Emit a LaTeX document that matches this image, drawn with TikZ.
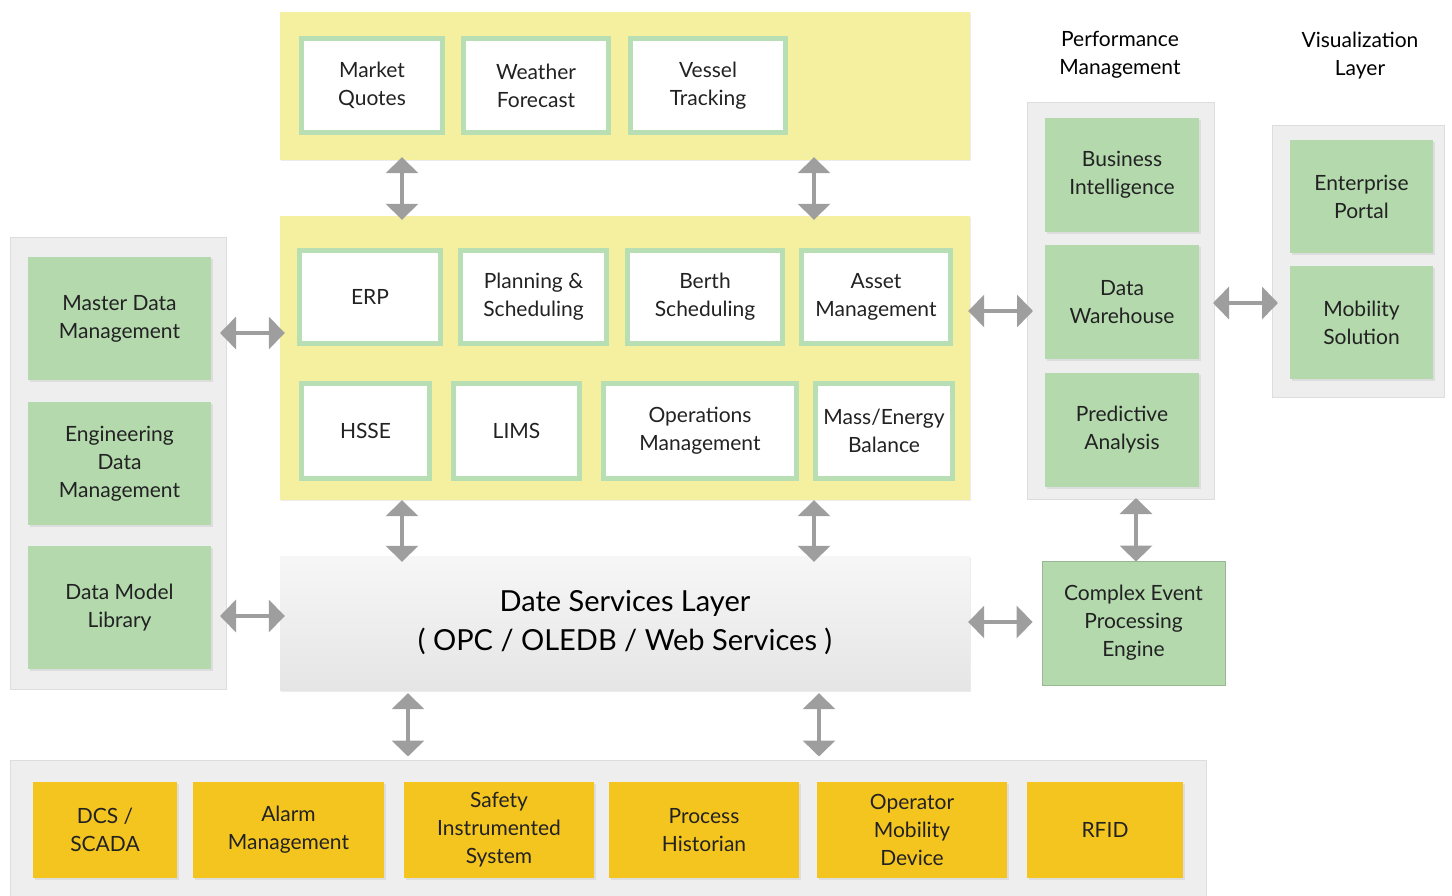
\documentclass[tikz,border=0pt]{standalone}
\usepackage{fontspec}
\setmainfont{Lato}
\usetikzlibrary{arrows.meta, positioning, shadows}
\definecolor{myellow}{HTML}{F5F0A0}
\definecolor{mgreen}{HTML}{B3D9AD}
\definecolor{mgreenline}{HTML}{B8DFB3}
\definecolor{mpanel}{HTML}{EEEEEE}
\definecolor{mpanelline}{HTML}{DDDDDD}
\definecolor{morange}{HTML}{F5C51F}
\definecolor{marrow}{HTML}{9E9E9E}
\definecolor{mtext}{HTML}{222222}
\tikzstyle{layer} = [rectangle, fill = myellow, drop shadow = {shadow xshift = 1pt, shadow yshift = -1pt, opacity = .15}]
\tikzstyle{group} = [rectangle, fill = mpanel, draw = mpanelline, line width = 1pt]
\tikzstyle{app} = [rectangle, fill = white, draw = mgreenline, line width = 5pt, text = mtext, text centered]
\tikzstyle{service} = [rectangle, fill = mgreen, text = mtext, text centered, drop shadow = {shadow xshift = 2pt, shadow yshift = -2pt, opacity = .15}]
\tikzstyle{field} = [rectangle, fill = morange, text = mtext, text centered, drop shadow = {shadow xshift = 2pt, shadow yshift = -2pt, opacity = .15}]
\tikzstyle{link} = [line width = 3.5pt, draw = marrow, {Triangle[width = 32pt, length = 16pt]}-{Triangle[width = 32pt, length = 16pt]}]

\begin{document}
\begin{tikzpicture}[x = 1pt, y = -1pt, align = center, node distance = 13pt, font = \fontsize{21}{28}\selectfont]
  \useasboundingbox (0,0) rectangle (1452,896);
  % external feeds
  \node (feeds) [layer, minimum width = 690pt, minimum height = 148pt] at (625,86) {};
  \node (quotes) [app, minimum width = 141pt, minimum height = 94pt] at (372,85.5) {Market\\Quotes};
  \node (weather) [app, minimum width = 145pt, minimum height = 94pt] at (536,85.5) {Weather\\Forecast};
  \node (vessel) [app, minimum width = 155pt, minimum height = 94pt] at (708,85.5) {Vessel\\Tracking};
  % business applications
  \node (apps) [layer, minimum width = 690pt, minimum height = 284pt] at (625,358) {};
  \node (erp) [app, minimum width = 141pt, minimum height = 93pt] at (370,297) {ERP};
  \node (plan) [app, minimum width = 146pt, minimum height = 93pt] at (533.5,297) {Planning \&\\Scheduling};
  \node (berth) [app, minimum width = 155pt, minimum height = 93pt] at (705,297) {Berth\\Scheduling};
  \node (asset) [app, minimum width = 149pt, minimum height = 93pt] at (876,297) {Asset\\Management};
  \node (hsse) [app, minimum width = 128pt, minimum height = 95pt] at (365.5,431) {HSSE};
  \node (lims) [app, minimum width = 126pt, minimum height = 95pt] at (516.5,431) {LIMS};
  \node (ops) [app, minimum width = 193pt, minimum height = 95pt] at (700,431) {Operations\\Management};
  \node (balance) [app, minimum width = 137pt, minimum height = 95pt] at (884,431) {Mass/Energy\\Balance};
  % data services
  \node (dsl) [rectangle, top color = mpanel!50!white, bottom color = mpanel!92!gray, drop shadow = {shadow xshift = 1pt, shadow yshift = -2pt, opacity = .15}, minimum width = 690pt, minimum height = 134pt, font = \fontsize{29}{39}\selectfont, text = black] at (625,623) {Date Services Layer\\( OPC / OLEDB / Web Services )};
  % master data
  \node (master) [group, minimum width = 216pt, minimum height = 452pt] at (118.5,463.5) {};
  \node (mdm) [service, minimum width = 183pt, minimum height = 123pt] at (119.5,318.5) {Master Data\\Management};
  \node (edm) [service, minimum width = 183pt, minimum height = 123pt, below = 22pt of mdm] {Engineering\\Data\\Management};
  \node (dml) [service, minimum width = 183pt, minimum height = 123pt, below = 20pt of edm] {Data Model\\Library};
  % performance management
  \node (perftitle) [text = black] at (1120,55) {Performance\\Management};
  \node (perf) [group, minimum width = 187pt, minimum height = 397pt] at (1121,301) {};
  \node (bi) [service, minimum width = 154pt, minimum height = 114pt] at (1122,175) {Business\\Intelligence};
  \node (dw) [service, minimum width = 154pt, minimum height = 114pt, below = of bi] {Data\\Warehouse};
  \node (pa) [service, minimum width = 154pt, minimum height = 114pt, below = of dw] {Predictive\\Analysis};
  % visualization
  \node (vistitle) [text = black] at (1360,56) {Visualization\\Layer};
  \node (vis) [group, minimum width = 172pt, minimum height = 272pt] at (1358.5,261.5) {};
  \node (portal) [service, minimum width = 143pt, minimum height = 113pt] at (1361.5,196.5) {Enterprise\\Portal};
  \node (mobile) [service, minimum width = 143pt, minimum height = 113pt, below = of portal] {Mobility\\Solution};
  \node (cep) [rectangle, fill = mgreen, draw = mgreen!85!black, line width = .8pt, text = mtext, minimum width = 183pt, minimum height = 124pt] at (1133.5,623) {Complex Event\\Processing\\Engine};
  % plant floor
  \node (plant) [group, minimum width = 1196pt, minimum height = 150pt] at (608.5,835) {};
  \node (dcs) [field, minimum width = 144pt, minimum height = 96pt] at (105,830) {DCS /\\SCADA};
  \node (alarm) [field, minimum width = 191pt, minimum height = 96pt] at (288.5,830) {Alarm\\Management};
  \node (sis) [field, minimum width = 190pt, minimum height = 96pt] at (499,830) {Safety\\Instrumented\\System};
  \node (hist) [field, minimum width = 190pt, minimum height = 96pt] at (704,830) {Process\\Historian};
  \node (omd) [field, minimum width = 190pt, minimum height = 96pt] at (912,830) {Operator\\Mobility\\Device};
  \node (rfid) [field, minimum width = 156pt, minimum height = 96pt] at (1105,830) {RFID};
  % connectors
  \coordinate (ax1) at (402,0);
  \coordinate (ax2) at (814,0);
  \coordinate (bx1) at (408,0);
  \coordinate (bx2) at (819,0);
  \coordinate (cx) at (1136,0);
  \coordinate (ay1) at (0,333);
  \coordinate (ay2) at (0,616);
  \coordinate (ay3) at (0,311);
  \coordinate (ay4) at (0,622);
  \coordinate (ay5) at (0,303);
  \draw [link, shorten <= -3pt, shorten >= -4pt] (feeds.south -| ax1) -- (apps.north -| ax1);
  \draw [link, shorten <= -3pt, shorten >= -4pt] (feeds.south -| ax2) -- (apps.north -| ax2);
  \draw [link, shorten >= -6pt] (apps.south -| ax1) -- (dsl.north -| ax1);
  \draw [link, shorten >= -6pt] (apps.south -| ax2) -- (dsl.north -| ax2);
  \draw [link, shorten <= 3pt, shorten >= 3pt] (dsl.south -| bx1) -- (plant.north -| bx1);
  \draw [link, shorten <= 3pt, shorten >= 3pt] (dsl.south -| bx2) -- (plant.north -| bx2);
  \draw [link, shorten <= -7pt, shorten >= -5pt] (master.east |- ay1) -- (apps.west |- ay1);
  \draw [link, shorten <= -7pt, shorten >= -5pt] (master.east |- ay2) -- (dsl.west |- ay2);
  \draw [link, shorten <= -2pt, shorten >= -6pt] (apps.east |- ay3) -- (perf.west |- ay3);
  \draw [link, shorten <= -2pt, shorten >= 9pt] (dsl.east |- ay4) -- (cep.west |- ay4);
  \draw [link, shorten <= -2pt, shorten >= -6pt] (perf.east |- ay5) -- (vis.west |- ay5);
  \draw [link, shorten <= -2pt, shorten >= -1pt] (perf.south -| cx) -- (cep.north -| cx);
\end{tikzpicture}
\end{document}
